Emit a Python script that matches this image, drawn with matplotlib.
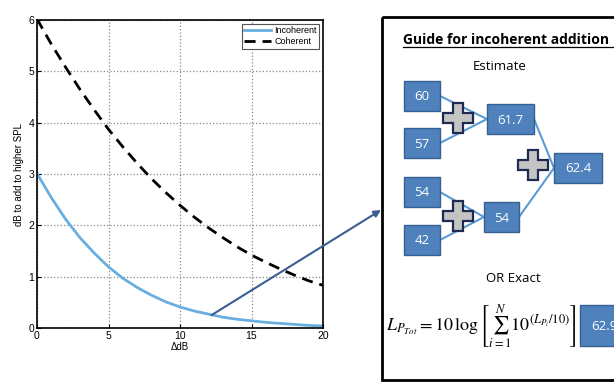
import matplotlib
matplotlib.use("Agg")
import matplotlib.pyplot as plt
from matplotlib.patches import Rectangle, Polygon

plt.rcParams['font.family'] = ['Liberation Sans', 'DejaVu Sans']
plt.rcParams['mathtext.fontset'] = 'stix'

# level difference between the two sources (dB)
delta_db = list(range(0, 21))
# dB to add to the higher level
incoherent = [3.01, 2.54, 2.12, 1.76, 1.46, 1.19, 0.97, 0.79, 0.64, 0.51, 0.41,
              0.33, 0.27, 0.21, 0.17, 0.14, 0.11, 0.09, 0.07, 0.05, 0.04]
coherent = [6.02, 5.53, 5.08, 4.65, 4.25, 3.87, 3.53, 3.21, 2.91, 2.64, 2.39,
            2.16, 1.95, 1.76, 1.58, 1.42, 1.28, 1.15, 1.03, 0.92, 0.83]

# guide panel numbers
level_pairs = [("60", "57"), ("54", "42")]
pair_sums = ["61.7", "54"]
total_estimate = "62.4"
total_exact = "62.9"

fig = plt.figure(figsize=(6.14, 3.84), dpi=100)
ax = fig.add_axes([37 / 614, 1 - 328 / 384, 286 / 614, 308 / 384])
ax.plot(delta_db, incoherent, color='#6aaee0', lw=2, label='Incoherent')
ax.plot(delta_db, coherent, color='black', lw=2, ls=(0, (4, 2.5)), label='Coherent')
ax.set_xlim(0, 20)
ax.set_ylim(0, 6)
ax.set_xticks([0, 5, 10, 15, 20])
ax.set_yticks(range(0, 7))
ax.grid(True, color='#888888', ls=':', lw=0.9)
ax.tick_params(labelsize=7.5, length=3, direction='in', pad=2)
ax.set_xlabel('ΔdB', fontsize=7, labelpad=1)
ax.set_ylabel('dB to add to higher SPL', fontsize=7, labelpad=3)
for s in ax.spines.values():
    s.set_linewidth(1.2)
leg = ax.legend(loc='upper right', fontsize=6.5, handlelength=3, handletextpad=0.3,
                borderpad=0.3, labelspacing=0.2, fancybox=False, framealpha=1,
                edgecolor='#555555', borderaxespad=0.4)
leg.get_frame().set_linewidth(0.8)

# overlay in pixel coordinates for the guide panel
ov = fig.add_axes([0, 0, 1, 1], facecolor='none')
ov.set_xlim(0, 614)
ov.set_ylim(384, 0)
ov.axis('off')

ov.add_patch(Rectangle((382, 17), 240, 363, fill=False, ec='black', lw=2, clip_on=False))
ov.text(403, 44, 'Guide for incoherent addition', fontsize=10, fontweight='bold',
        family=['Open Sans', 'DejaVu Sans'], va='baseline', ha='left')
ov.plot([403, 614], [47, 47], color='black', lw=0.9)
ov.text(500, 66, 'Estimate', fontsize=9.5, family=['Open Sans', 'DejaVu Sans'],
        ha='center', va='center')
ov.text(513, 279, 'OR Exact', fontsize=9.5, family=['Open Sans', 'DejaVu Sans'],
        ha='center', va='center')

box_fc = '#4f81bd'
box_ec = '#35608f'
link_c = '#5b9bd5'


def box(x0, y0, w, h, label):
    ov.add_patch(Rectangle((x0, y0), w, h, fc=box_fc, ec=box_ec, lw=1, zorder=3, clip_on=False))
    ov.text(x0 + w / 2, y0 + h / 2 + 1, label, color='white', fontsize=9.5,
            family=['Open Sans', 'DejaVu Sans'], ha='center', va='center', zorder=4,
            clip_on=False)


def plus(cx, cy, s=15, t=5):
    pts = [(cx - t, cy - s), (cx + t, cy - s), (cx + t, cy - t), (cx + s, cy - t),
           (cx + s, cy + t), (cx + t, cy + t), (cx + t, cy + s), (cx - t, cy + s),
           (cx - t, cy + t), (cx - s, cy + t), (cx - s, cy - t), (cx - t, cy - t)]
    ov.add_patch(Polygon(pts, closed=True, fc='#c4c4c4', ec='#1f2a52', lw=1.6, zorder=5))


left_y = [(81, 128), (177, 225)]
mid_box = [(487, 104, 47), (484, 202, 35)]
for (a, b), (ya, yb), (mx, my, mw), s in zip(level_pairs, left_y, mid_box, pair_sums):
    ov.plot([440, mx], [ya + 15, my + 15], color=link_c, lw=1.5, zorder=2)
    ov.plot([440, mx], [yb + 15, my + 15], color=link_c, lw=1.5, zorder=2)
    box(404, ya, 36, 30, a)
    box(404, yb, 36, 30, b)
    box(mx, my, mw, 30, s)
    plus(458, my + 14)

ov.plot([534, 554], [119, 168], color=link_c, lw=1.5, zorder=2)
ov.plot([519, 554], [217, 168], color=link_c, lw=1.5, zorder=2)
box(554, 153, 48, 30, total_estimate)
plus(533, 165)
box(580, 305, 48, 41, total_exact)

ov.text(386, 326, r'$L_{P_{Tot}} = 10\,\log\left[\sum_{i=1}^{N}10^{\left(L_{P_i}/10\right)}\right]$',
        fontsize=13, ha='left', va='center')

# arrow from the incoherent curve to the guide
ov.annotate('', xy=(381, 210), xytext=(12.2, 0.25), textcoords=ax.transData,
            arrowprops=dict(arrowstyle='-|>', color='#3b5e92', lw=1.5,
                            mutation_scale=10, shrinkA=0, shrinkB=0))

fig.savefig('out.png', dpi=100)
